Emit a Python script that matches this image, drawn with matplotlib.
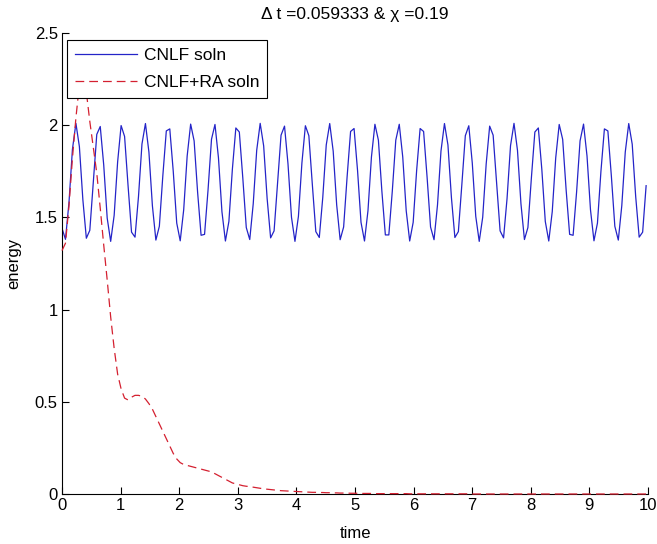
import numpy as np
import matplotlib
matplotlib.use("Agg")
import matplotlib.pyplot as plt

# time step of both runs
dt = 0.059333
chi = 0.19

# energy, CNLF (sampled every dt from t=0)
cnlf = [
    1.441, 1.381, 1.579, 1.869, 2.010, 1.884, 1.596, 1.387, 1.430, 1.690, 1.950, 1.993, 1.784,
    1.496, 1.370, 1.511, 1.801, 1.998, 1.939, 1.672, 1.420, 1.393, 1.613, 1.898, 2.009, 1.854,
    1.563, 1.377, 1.452, 1.726, 1.969, 1.980, 1.749, 1.469, 1.373, 1.541, 1.833, 2.006, 1.915,
    1.637, 1.403, 1.408, 1.648, 1.924, 2.004, 1.823, 1.531, 1.372, 1.478, 1.761, 1.985, 1.963,
    1.714, 1.445, 1.380, 1.574, 1.864, 2.010, 1.888, 1.602, 1.389, 1.427, 1.684, 1.946, 1.995,
    1.790, 1.501, 1.370, 1.506, 1.795, 1.997, 1.943, 1.678, 1.423, 1.391, 1.608, 1.893, 2.009,
    1.859, 1.568, 1.379, 1.448, 1.720, 1.966, 1.982, 1.755, 1.473, 1.372, 1.536, 1.828, 2.005,
    1.919, 1.642, 1.405, 1.405, 1.643, 1.919, 2.005, 1.828, 1.536, 1.372, 1.473, 1.755, 1.982,
    1.966, 1.719, 1.448, 1.379, 1.568, 1.860, 2.009, 1.893, 1.608, 1.391, 1.423, 1.678, 1.943,
    1.997, 1.795, 1.506, 1.370, 1.501, 1.790, 1.995, 1.946, 1.684, 1.427, 1.389, 1.602, 1.889,
    2.010, 1.864, 1.574, 1.380, 1.445, 1.714, 1.963, 1.985, 1.761, 1.478, 1.372, 1.531, 1.823,
    2.004, 1.923, 1.648, 1.408, 1.403, 1.637, 1.915, 2.006, 1.833, 1.541, 1.373, 1.469, 1.749,
    1.980, 1.969, 1.725, 1.452, 1.377, 1.563, 1.854, 2.009, 1.897, 1.613, 1.393, 1.420, 1.672,
]

# energy, CNLF + Robert-Asselin filter
cnlf_ra = [
    1.32, 1.36, 1.56, 1.82, 2.04, 2.22, 2.30, 2.18, 2.02, 1.88, 1.74, 1.55, 1.35, 1.16, 0.96, 0.79, 0.65, 0.57,
    0.52, 0.51, 0.525, 0.535, 0.535, 0.53, 0.515, 0.49, 0.46, 0.42, 0.38, 0.34, 0.30, 0.26, 0.22, 0.19, 0.17, 0.16,
    0.155, 0.15, 0.145, 0.14, 0.135, 0.13, 0.125, 0.12, 0.11, 0.10, 0.09, 0.08, 0.07, 0.06, 0.055, 0.05, 0.045, 0.042,
    0.04, 0.037, 0.034, 0.031, 0.028, 0.026, 0.024, 0.022, 0.02, 0.018, 0.017, 0.016, 0.015, 0.014, 0.013, 0.012, 0.011, 0.010,
    0.009, 0.009, 0.008, 0.008, 0.007, 0.007, 0.006, 0.006, 0.005, 0.005, 0.005, 0.004, 0.004, 0.004, 0.003, 0.003, 0.003, 0.003,
    0.002, 0.002, 0.002, 0.002, 0.002, 0.002, 0.002, 0.002, 0.002, 0.002, 0.001, 0.001, 0.001, 0.001, 0.001, 0.001, 0.001, 0.001,
    0.001, 0.001, 0.001, 0.001, 0.001, 0.001, 0.001, 0.001, 0.001, 0.001, 0.0, 0.0, 0.0, 0.0, 0.0, 0.0, 0.0, 0.0,
    0.0, 0.0, 0.0, 0.0, 0.0, 0.0, 0.0, 0.0, 0.0, 0.0, 0.0, 0.0, 0.0, 0.0, 0.0, 0.0, 0.0, 0.0,
    0.0, 0.0, 0.0, 0.0, 0.0, 0.0, 0.0, 0.0, 0.0, 0.0, 0.0, 0.0, 0.0, 0.0, 0.0, 0.0, 0.0, 0.0,
    0.0, 0.0, 0.0, 0.0, 0.0, 0.0, 0.0,
]

xticks = [0, 1, 2, 3, 4, 5, 6, 7, 8, 9, 10]
yticks = [0, 0.5, 1, 1.5, 2, 2.5]
ytick_labels = ["0", "0.5", "1", "1.5", "2", "2.5"]

time = dt * np.arange(len(cnlf))

plt.rcParams['font.family'] = ['Liberation Sans', 'DejaVu Sans']
plt.rcParams['font.size'] = 12

fig = plt.figure(figsize=(6.57, 5.44), dpi=100)
ax = fig.add_axes([62 / 657, 1 - 494 / 544, 586 / 657, 461 / 544])

ax.plot(time, cnlf, color='#2424c8', lw=0.9, label='CNLF soln')
ax.plot(time, cnlf_ra, color='#d42030', lw=0.9, dashes=(7, 4),
        label='CNLF+RA soln', clip_on=False, zorder=3)

ax.set_xlim(0, 10)
ax.set_ylim(0, 2.5)
ax.set_xticks(xticks)
ax.set_yticks(yticks)
ax.set_yticklabels(ytick_labels)
ax.tick_params(direction='in', length=5, width=0.8, pad=3, labelsize=12)
ax.spines['top'].set_visible(False)
ax.spines['right'].set_visible(False)
for s in ['left', 'bottom']:
    ax.spines[s].set_linewidth(0.8)

ax.set_xlabel('time', labelpad=9)
ax.set_ylabel('energy', labelpad=10)
ax.set_title('\u0394 t =%g & \u03c7 =%g' % (dt, chi), fontsize=12.5, pad=10)

leg = ax.legend(loc='upper left', bbox_to_anchor=(0.008, 0.985), fancybox=False,
                framealpha=1, edgecolor='black', handlelength=3.6,
                borderaxespad=0, labelspacing=0.7, handletextpad=0.4,
                borderpad=0.45, fontsize=12.5)
leg.get_frame().set_linewidth(0.8)

fig.savefig('out.png', dpi=100)
